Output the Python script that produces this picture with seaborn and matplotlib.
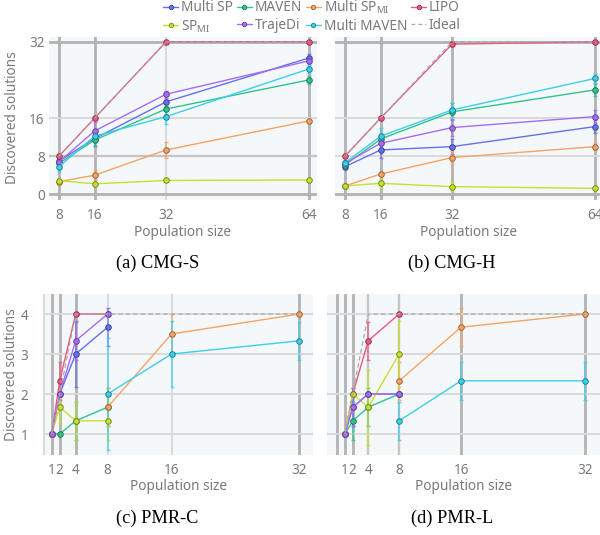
import numpy as np
import pandas as pd
import matplotlib
matplotlib.use("Agg")
import matplotlib.pyplot as plt
import seaborn as sns
from matplotlib.lines import Line2D
import matplotlib.colors as mcolors

sns.set_theme(style="white")
plt.rcParams["font.family"] = ["Noto Sans", "DejaVu Sans"]
plt.rcParams["mathtext.fontset"] = "custom"
plt.rcParams["mathtext.rm"] = "Noto Sans"
plt.rcParams["mathtext.it"] = "Noto Sans:italic"

nan = np.nan

# ---------------- data ----------------
CMG_X = [8, 16, 32, 64]
PMR_X = [1, 2, 4, 8, 16, 32]
CMG_TICKS = [0, 8, 16, 32]
PMR_TICKS = [1, 2, 3, 4]

KEYS = ["multi_sp", "maven", "multi_sp_mi", "lipo", "sp_mi", "trajedi", "multi_maven"]
LABELS = ["Multi SP", "MAVEN", "Multi SP$_{\\mathrm{MI}}$", "LIPO",
          "SP$_{\\mathrm{MI}}$", "TrajeDi", "Multi MAVEN"]
IDEAL_LABEL = "Ideal"
CAPTIONS = ["(a) CMG-S", "(b) CMG-H", "(c) PMR-C", "(d) PMR-L"]

# CMG-S  (mean, error)
cmgs_multi_sp = [7.0, 11.7, 19.4, 28.6];      cmgs_multi_sp_err = [0.7, 1.6, 0.9, 0.9]
cmgs_maven = [6.5, 11.4, 17.9, 24.0];         cmgs_maven_err = [0.8, 1.3, 1.0, 0.9]
cmgs_multi_sp_mi = [2.65, 4.0, 9.3, 15.4];    cmgs_multi_sp_mi_err = [0.4, 1.0, 1.75, 0.4]
cmgs_lipo = [8, 16, 32, 32];                  cmgs_lipo_err = [0.2, 0.2, 0, 0]
cmgs_sp_mi = [2.85, 2.2, 2.9, 3.0];           cmgs_sp_mi_err = [0.3, 0.3, 0.2, 0.1]
cmgs_trajedi = [6.8, 13.3, 21.0, 28.0];       cmgs_trajedi_err = [0.8, 1.8, 0.7, 0.5]
cmgs_multi_maven = [5.8, 12.2, 16.3, 26.3];   cmgs_multi_maven_err = [0.9, 1.2, 1.5, 0.9]
cmgs_ideal = [8, 16, 32, 32]

# CMG-H
cmgh_multi_sp = [5.8, 9.3, 10.0, 14.2];       cmgh_multi_sp_err = [0.5, 1.75, 1.5, 1.3]
cmgh_maven = [6.15, 11.6, 17.3, 21.9];        cmgh_maven_err = [0.5, 1.0, 1.8, 1.2]
cmgh_multi_sp_mi = [1.75, 4.25, 7.7, 10.0];   cmgh_multi_sp_mi_err = [0.3, 0.4, 1.3, 0.7]
cmgh_lipo = [8, 16, 31.5, 32];                cmgh_lipo_err = [0.2, 0.2, 0.3, 0]
cmgh_sp_mi = [1.75, 2.3, 1.6, 1.25];          cmgh_sp_mi_err = [0.3, 0.9, 1.0, 0.4]
cmgh_trajedi = [6.5, 10.7, 14.0, 16.3];       cmgh_trajedi_err = [0.5, 1.0, 1.7, 1.4]
cmgh_multi_maven = [6.6, 12.2, 17.7, 24.3];   cmgh_multi_maven_err = [0.6, 1.7, 1.5, 1.0]
cmgh_ideal = [8, 16, 32, 32]

# PMR-C
pmrc_multi_sp = [1, 2, 3.0, 3.67, nan, nan];        pmrc_multi_sp_err = [0, 0, 0.82, 0.47, nan, nan]
pmrc_maven = [1, 1, 1.33, 1.67, nan, nan];          pmrc_maven_err = [0, 0, 0.47, 0.47, nan, nan]
pmrc_multi_sp_mi = [nan, nan, nan, 1.67, 3.5, 4.0]; pmrc_multi_sp_mi_err = [nan, nan, nan, 0.47, 0.5, 0]
pmrc_lipo = [1, 2.33, 4, 4, nan, nan];              pmrc_lipo_err = [0, 0.47, 0, 0, nan, nan]
pmrc_sp_mi = [1, 1.67, 1.33, 1.33, nan, nan];       pmrc_sp_mi_err = [0, 0.4, 0.47, 0.47, nan, nan]
pmrc_trajedi = [1, 2, 3.33, 4, nan, nan];           pmrc_trajedi_err = [0, 0, 0.47, 0, nan, nan]
pmrc_multi_maven = [nan, nan, nan, 2.0, 3.0, 3.33]; pmrc_multi_maven_err = [nan, nan, nan, 1.41, 0.82, 0.47]
pmrc_ideal = [1, 2, 4, 4, 4, 4]

# PMR-L
pmrl_multi_sp = [1, 1.67, 2, 2, nan, nan];           pmrl_multi_sp_err = [0, 0.47, 0, 0, nan, nan]
pmrl_maven = [1, 1.33, 1.67, 2, nan, nan];           pmrl_maven_err = [0, 0.47, 0.47, 0, nan, nan]
pmrl_multi_sp_mi = [nan, nan, nan, 2.33, 3.67, 4.0]; pmrl_multi_sp_mi_err = [nan, nan, nan, 0.47, 0.47, 0]
pmrl_lipo = [1, 2, 3.33, 4, nan, nan];               pmrl_lipo_err = [0, 0, 0.47, 0, nan, nan]
pmrl_sp_mi = [1, 2, 1.67, 3, nan, nan];              pmrl_sp_mi_err = [0, 0, 0.94, 0.82, nan, nan]
pmrl_trajedi = [1, 1.67, 2, 2, nan, nan];            pmrl_trajedi_err = [0, 0.47, 0, 0, nan, nan]
pmrl_multi_maven = [nan, nan, nan, 1.33, 2.33, 2.33]; pmrl_multi_maven_err = [nan, nan, nan, 0.47, 0.47, 0.47]
pmrl_ideal = [1, 2, 4, 4, 4, 4]

# ---------------- style ----------------
COLORS = {
    "multi_sp": "#6470ee",
    "maven": "#2fc48e",
    "multi_sp_mi": "#f7a363",
    "lipo": "#ea5a80",
    "sp_mi": "#c3e12e",
    "trajedi": "#a66cf2",
    "multi_maven": "#3ccfea",
}
IDEAL_COLOR = "#a8a8a8"
TEXT_GRAY = "#7a7a7a"
BG = "#f5f8fa"
FS = 9.8

W, H = 600, 535


def darken(c, f=0.62):
    r, g, b = mcolors.to_rgb(c)
    return (r * f, g * f, b * f)


GRID = {
    "d": ("#b2b2b2", 2.0),
    "m": ("#c6c6c6", 1.7),
    "l": ("#dadada", 1.4),
}

fig = plt.figure(figsize=(W / 100, H / 100), dpi=100)


def add_ax(left, top, right, bottom):
    return fig.add_axes([left / W, 1 - bottom / H, (right - left) / W, (bottom - top) / H])


def build(prefix):
    g = globals()
    out = {}
    for k in KEYS:
        out[k] = (g[f"{prefix}_{k}"], g[f"{prefix}_{k}_err"])
    return out, g[f"{prefix}_ideal"]


def draw_panel(ax, x, prefix):
    series, ideal = build(prefix)
    for k in KEYS:
        mean, err = series[k]
        df = pd.DataFrame({"x": x, "y": mean, "err": err}).dropna(subset=["y"])
        col = COLORS[k]
        ax.errorbar(df["x"], df["y"], yerr=df["err"].fillna(0), fmt="none", ecolor=col,
                    elinewidth=1.1, capsize=1.7, capthick=1.0, alpha=0.8, zorder=3)
        sns.lineplot(data=df, x="x", y="y", ax=ax, color=col, lw=1.0, marker="o",
                     markersize=4.0, markeredgecolor=darken(col), markeredgewidth=0.7,
                     errorbar=None, sort=False, zorder=4)
    dfi = pd.DataFrame({"x": x, "y": ideal})
    sns.lineplot(data=dfi, x="x", y="y", ax=ax, color=IDEAL_COLOR, lw=0.9,
                 linestyle=(0, (3.5, 2.5)), errorbar=None, zorder=5)
    ax.set_xlabel("")
    ax.set_ylabel("")


def style_axis(ax, xticks, yticks, xlim, ylim, xgrid, ygrid, show_y, ypad, minor0=None):
    ax.set_facecolor(BG)
    for s in ax.spines.values():
        s.set_visible(False)
    ax.set_xticks(xticks)
    ax.set_yticks(yticks)
    ax.set_xlim(*xlim)
    ax.set_ylim(*ylim)
    ax.set_axisbelow(True)
    ax.grid(True, which="major")
    for ln, st in zip(ax.xaxis.get_gridlines(), xgrid):
        c, w = GRID[st]
        ln.set_color(c); ln.set_linewidth(w)
    for ln, st in zip(ax.yaxis.get_gridlines(), ygrid):
        c, w = GRID[st]
        ln.set_color(c); ln.set_linewidth(w)
    if minor0 is not None:
        ax.set_xticks([0], minor=True)
        ax.grid(True, which="minor", axis="x")
        c, w = GRID[minor0]
        for tk in ax.xaxis.get_minor_ticks():
            tk.gridline.set_color(c); tk.gridline.set_linewidth(w)
    ax.tick_params(axis="both", which="both", length=0, labelsize=FS, labelcolor=TEXT_GRAY)
    ax.tick_params(axis="x", pad=6)
    ax.tick_params(axis="y", pad=ypad)
    ax.set_xticklabels([str(v) for v in xticks])
    if show_y:
        ax.set_yticklabels([str(v) for v in yticks])
    else:
        ax.set_yticklabels([])


# positions (pixels: left, top, right, bottom)
ax_a = add_ax(49, 37, 317, 200)
ax_b = add_ax(335, 37, 603, 200)
ax_c = add_ax(43, 294, 313, 455)
ax_d = add_ax(327, 294, 600, 455)

draw_panel(ax_a, CMG_X, "cmgs")
draw_panel(ax_b, CMG_X, "cmgh")
draw_panel(ax_c, PMR_X, "pmrc")
draw_panel(ax_d, PMR_X, "pmrl")

cmg_xlim = (5.76, 65.8)
cmg_ylim = (-1.2, 33.0)
style_axis(ax_a, CMG_X, CMG_TICKS, cmg_xlim, cmg_ylim, "ddld", "dmld", True, 3)
style_axis(ax_b, CMG_X, CMG_TICKS, cmg_xlim, cmg_ylim, "dddd", "dlld", False, 3)
style_axis(ax_c, PMR_X, PMR_TICKS, (-0.09, 33.7), (0.475, 4.5), "dddlld", "llll", True, 10.5, minor0="l")
style_axis(ax_d, PMR_X, PMR_TICKS, (-1.325, 33.94), (0.475, 4.5), "ddmmdd", "llll", False, 3, minor0="d")

# axis labels
for (cx, cy) in [(183, 233), (469, 233), (178, 487), (463.5, 487)]:
    fig.text(cx / W, 1 - cy / H, "Population size", ha="center", va="center",
             fontsize=FS, color=TEXT_GRAY)
for (cx, cy) in [(13, 118), (11.5, 375)]:
    fig.text(cx / W, 1 - cy / H, "Discovered solutions", ha="center", va="center",
             rotation=90, fontsize=FS, color=TEXT_GRAY)

# captions
for (cx, cy), cap in zip([(158, 263), (452, 263), (157, 518), (452, 518)], CAPTIONS):
    fig.text(cx / W, 1 - cy / H, cap, ha="center", va="center", fontsize=13.2,
             family="Liberation Serif", color="black")

# legend (column-major order for ncol=4)
handles = {}
for k, lab in zip(KEYS, LABELS):
    handles[k] = Line2D([], [], color=COLORS[k], lw=1.0, marker="o", markersize=3.2,
                        markeredgecolor=darken(COLORS[k]), markeredgewidth=0.6, label=lab)
handles["ideal"] = Line2D([], [], color=IDEAL_COLOR, lw=0.9, linestyle=(0, (3, 2.5)), label=IDEAL_LABEL)
order = ["multi_sp", "sp_mi", "maven", "trajedi", "multi_sp_mi", "multi_maven", "lipo", "ideal"]
leg = fig.legend([handles[k] for k in order], [handles[k].get_label() for k in order],
                 ncol=4, loc="center", bbox_to_anchor=(312 / W, 1 - 16.5 / H), frameon=False,
                 fontsize=FS, handlelength=1.1, handletextpad=0.2, columnspacing=0.3,
                 labelspacing=0.2, borderpad=0, borderaxespad=0)
for t in leg.get_texts():
    t.set_color(TEXT_GRAY)

fig.savefig("out.png", dpi=100)
